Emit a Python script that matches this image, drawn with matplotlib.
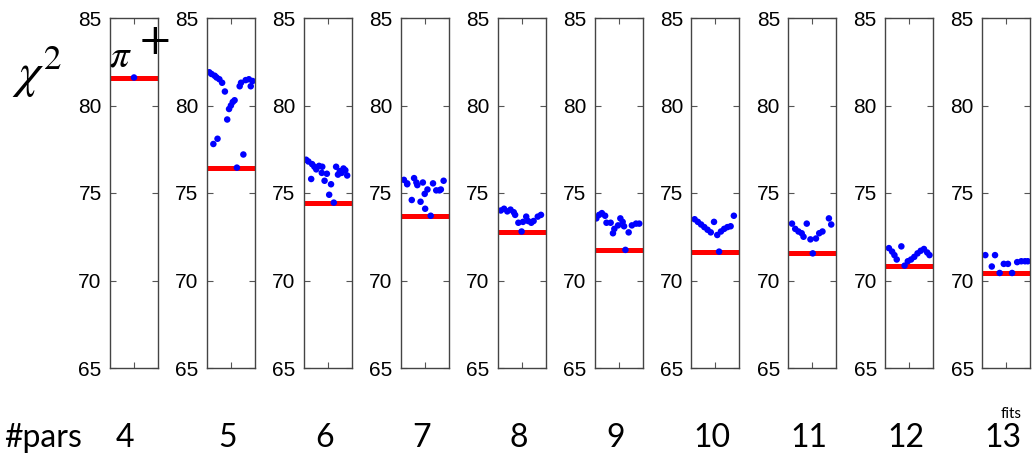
import matplotlib
matplotlib.use("Agg")
import matplotlib.pyplot as plt

# number of fit parameters per panel
npars = [4, 5, 6, 7, 8, 9, 10, 11, 12, 13]

# chi^2 of every fit, x = position of the fit inside the panel (0..1)
fit_x = [
    [0.5],
    [0.03, 0.08, 0.12, 0.15, 0.19, 0.21, 0.25, 0.31, 0.37, 0.42, 0.46, 0.50,
     0.54, 0.58, 0.63, 0.69, 0.72, 0.77, 0.82, 0.89, 0.93, 0.97],
    [0.03, 0.08, 0.14, 0.16, 0.21, 0.25, 0.31, 0.37, 0.38, 0.43, 0.48, 0.53,
     0.57, 0.63, 0.68, 0.72, 0.76, 0.80, 0.84, 0.88, 0.92],
    [0.05, 0.12, 0.22, 0.12, 0.27, 0.32, 0.34, 0.41, 0.46, 0.50, 0.51, 0.56,
     0.63, 0.68, 0.75, 0.82, 0.85, 0.91],
    [0.05, 0.12, 0.19, 0.26, 0.33, 0.36, 0.43, 0.50, 0.53, 0.60, 0.64, 0.71,
     0.76, 0.85, 0.92],
    [0.02, 0.08, 0.14, 0.21, 0.24, 0.33, 0.38, 0.41, 0.49, 0.54, 0.59, 0.62,
     0.65, 0.72, 0.79, 0.88, 0.95],
    [0.05, 0.12, 0.19, 0.26, 0.33, 0.40, 0.47, 0.54, 0.58, 0.62, 0.69, 0.76,
     0.83, 0.90],
    [0.06, 0.13, 0.20, 0.27, 0.31, 0.38, 0.46, 0.51, 0.58, 0.65, 0.72, 0.86,
     0.91],
    [0.06, 0.13, 0.18, 0.23, 0.33, 0.40, 0.47, 0.54, 0.61, 0.68, 0.75, 0.82,
     0.89, 0.94],
    [0.05, 0.19, 0.26, 0.36, 0.45, 0.54, 0.63, 0.74, 0.83, 0.91, 0.97],
]
fit_chi2 = [
    [81.6],
    [81.9, 81.8, 77.8, 81.7, 81.6, 78.1, 81.5, 81.3, 80.8, 79.2, 79.8, 80.0,
     80.2, 80.3, 76.45, 81.1, 81.3, 77.2, 81.45, 81.5, 81.1, 81.4],
    [76.9, 76.8, 75.8, 76.65, 76.5, 76.35, 76.55, 76.15, 76.5, 75.7, 76.1,
     74.9, 75.5, 74.45, 76.5, 76.05, 76.25, 76.15, 76.4, 76.3, 76.0],
    [75.75, 75.55, 74.6, 75.5, 75.85, 75.6, 75.45, 74.5, 75.6, 74.95, 74.1,
     75.2, 73.7, 75.55, 75.15, 75.15, 75.2, 75.7],
    [74.0, 74.1, 73.95, 74.05, 73.9, 73.75, 73.3, 72.8, 73.35, 73.65, 73.4,
     73.3, 73.4, 73.65, 73.75],
    [73.55, 73.75, 73.85, 73.7, 73.3, 73.3, 72.7, 72.95, 73.15, 73.55, 73.35,
     73.1, 71.75, 72.75, 73.15, 73.25, 73.25],
    [73.5, 73.35, 73.2, 73.05, 72.9, 72.75, 73.35, 72.6, 71.65, 72.8, 72.95,
     73.05, 73.1, 73.7],
    [73.25, 72.95, 72.8, 72.7, 72.5, 73.25, 72.35, 71.55, 72.4, 72.7, 72.8,
     73.55, 73.2],
    [71.85, 71.65, 71.45, 71.2, 71.95, 70.85, 71.1, 71.2, 71.35, 71.55, 71.7,
     71.8, 71.6, 71.45],
    [71.45, 70.8, 71.45, 70.43, 70.95, 70.95, 70.43, 71.05, 71.1, 71.1, 71.1],
]

ylo, yhi = 65, 85

fig = plt.figure(figsize=(10.34, 4.55), dpi=100)
plt.rcParams["font.family"] = ["Liberation Sans", "DejaVu Sans"]
plt.rcParams["mathtext.fontset"] = "stix"

left0 = 110 / 1034
step = 96.9 / 1034
w = 48 / 1034
bottom = 1 - 368 / 455
height = (368 - 18) / 455

for i, n in enumerate(npars):
    ax = fig.add_axes([left0 + i * step, bottom, w, height])
    ax.axhline(min(fit_chi2[i]), color="red", lw=3.6, zorder=1)
    ax.scatter(fit_x[i], fit_chi2[i], s=22, color="blue", edgecolors="none",
               zorder=2)
    ax.set_xlim(-0.02, 1.02)
    ax.set_ylim(ylo, yhi)
    ax.set_yticks([65, 70, 75, 80, 85])
    ax.set_xticks([0.5])
    ax.set_xticklabels([])
    ax.tick_params(axis="both", direction="in", length=4, width=0.8,
                   top=True, right=True, bottom=True, labelsize=15, pad=6,
                   colors="#555555", labelcolor="black")
    for s in ax.spines.values():
        s.set_color("#444444")
        s.set_linewidth(1.0)
    # label under the panel
    xoff = -9 / 1034 if i == 0 else -3 / 1034
    fig.text(left0 + i * step + w / 2 + xoff, 0.018, str(n),
             fontsize=23, family="Lato", ha="center", va="baseline")
    if i == 0:
        ax.text(-0.02, 0.89, r"$\pi$", transform=ax.transAxes, fontsize=28,
                ha="left", va="center")
        ax.text(0.58, 0.93, "+", transform=ax.transAxes, fontsize=30,
                family="DejaVu Serif", ha="left", va="center", clip_on=False,
                fontweight="light")

fig.text(0.012, 0.84, r"$\chi^2$", fontsize=36, ha="left", va="center")
fig.text(0.004, 0.018, "#pars", fontsize=23, family="Lato", ha="left",
         va="baseline")
fig.text(left0 + 9 * step + w * 0.6, 0.082, "fits", fontsize=11,
         family="Lato", ha="center", va="baseline")

fig.savefig("out.png", dpi=100)
